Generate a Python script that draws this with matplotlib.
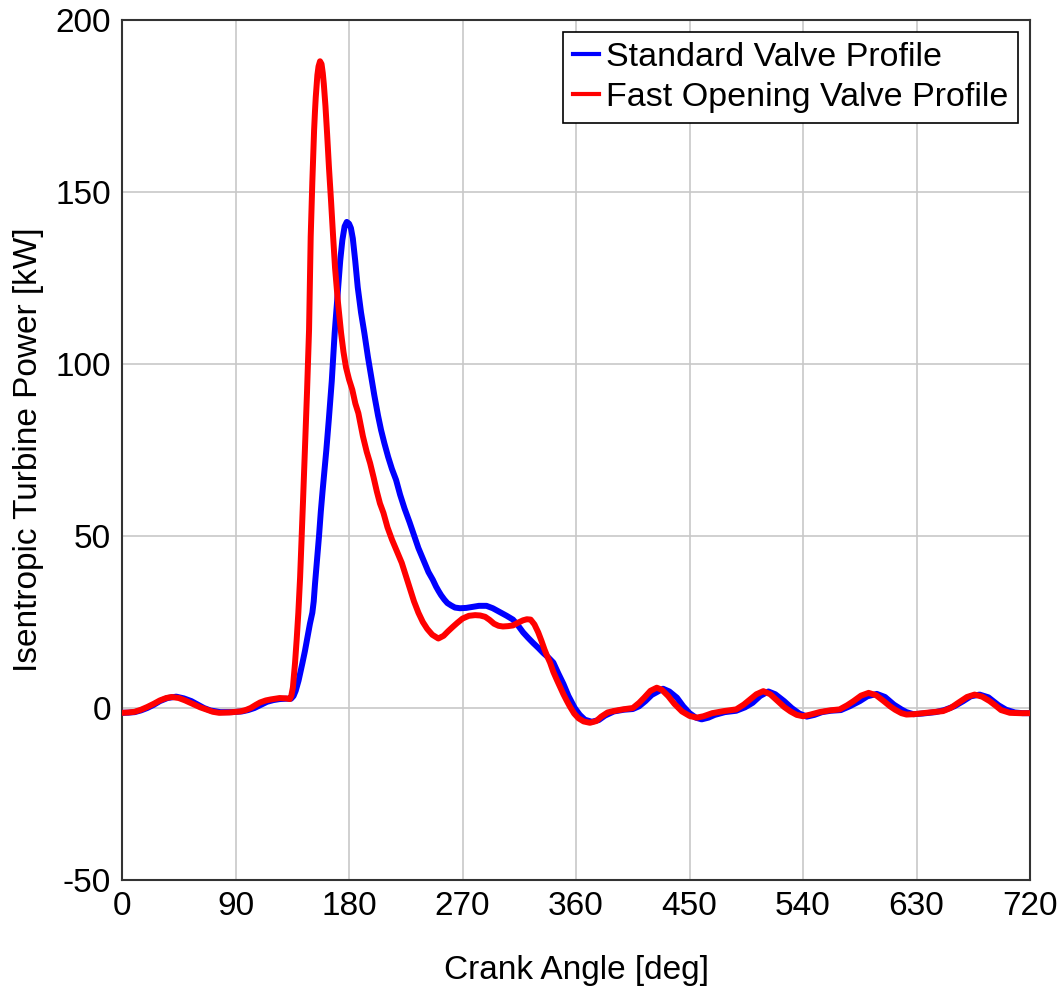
import numpy as np
import matplotlib
matplotlib.use('Agg')
import matplotlib.pyplot as plt

plt.rcParams['font.family'] = ['Liberation Sans', 'DejaVu Sans']
plt.rcParams['axes.unicode_minus'] = False

# Standard valve profile (crank angle [deg], power [kW])
std_ang = [0, 5, 10, 15, 20, 25, 30, 36, 43, 49, 55, 60, 65, 70, 78, 87, 95, 100, 105,
           110, 115, 120, 125, 130, 134, 136, 137.7, 140, 143, 145, 147, 149, 150.9,
           152, 153, 154.6, 156.2, 157.6, 159, 160.5, 162, 164, 166.3, 168.6, 171.3,
           173, 174.7, 176.5, 178.2, 180, 181.5, 183, 184.9, 186.9, 189.5, 192.2,
           195, 197.5, 200, 203, 205.4, 208, 211, 214, 217.3, 220.5, 224, 228, 231.8,
           235, 239, 243, 246.4, 249, 251, 253, 255.6, 258, 261, 264, 268, 273, 278,
           283, 289, 294, 300, 305, 310, 314, 318, 322, 326, 330, 334, 338, 342, 346,
           350, 354, 359, 363, 367, 372.5, 378, 383, 390, 398, 405, 410, 415, 420,
           429, 434, 440, 445, 450, 455, 459.6, 465, 470, 478, 487, 494, 500, 506,
           512.5, 518, 525, 531, 537, 543, 549, 555, 562, 570, 577, 585, 591, 598.5,
           605, 612, 618, 622, 627.5, 635, 645, 652, 660, 667, 673, 680, 687, 695,
           701, 708, 714, 720]
std_pow = [-1.4, -1.35, -1.2, -0.7, 0, 0.9, 2, 2.9, 3.3, 2.8, 2, 1, 0, -0.7, -1.2, -1.2,
           -1.0, -0.6, 0, 0.9, 1.8, 2.3, 2.6, 2.7, 2.7, 3.5, 5, 8, 13, 16.5, 20.5, 24.5,
           27.7, 31, 36, 43, 50, 57, 63, 69, 75, 84, 95, 109, 122, 130, 136, 140, 141.3,
           140.8, 139.5, 136.5, 130, 122.3, 115, 108.9, 102, 96.5, 91, 85, 80.8, 77, 73,
           69.5, 66.3, 62, 58, 54, 49.9, 46.5, 43, 39.5, 37.3, 35.3, 34, 32.8, 31.5,
           30.5, 29.8, 29.2, 29, 29.1, 29.4, 29.7, 29.7, 29, 27.8, 26.8, 25.7, 24, 22,
           20.4, 18.9, 17.5, 16, 14.7, 13.2, 10, 7, 3.5, 0, -2, -3.4, -4, -3.5, -2.2,
           -1, -0.5, -0.3, 0.5, 2, 3.8, 5.6, 4.8, 3, 0.5, -1.5, -2.8, -3.3, -2.8, -2,
           -1.2, -0.8, 0.2, 1.5, 3.5, 4.8, 4, 2, 0, -1.6, -2.5, -2, -1.2, -0.8, -0.6,
           0.5, 2, 3.4, 4.1, 3.2, 1, -0.4, -1.2, -1.8, -1.6, -1.2, -0.6, 0.5, 2, 3.4,
           3.9, 3.1, 0.8, -0.5, -1.3, -1.5, -1.5]

# Fast opening valve profile
fast_ang = [0, 5, 10, 15, 20, 25, 30, 35, 39.4, 45, 50, 56, 62, 68, 72, 77, 85, 93.6,
            98, 102, 106, 109.4, 114, 118, 125, 130, 133, 134.2, 135.5, 137.2, 138.5,
            139.8, 141.2, 142.5, 143.5, 144.5, 145.6, 146.7, 147.5, 148.3, 148.9,
            149.6, 150.3, 150.9, 151.6, 152.3, 153, 153.6, 154.3, 154.9, 155.8, 157,
            158.2, 159.2, 160, 161.3, 162.6, 164.1, 165.7, 167.3, 168.9, 171.2, 173.7,
            175.6, 177.6, 180, 182.6, 185, 187.4, 191, 194, 196.7, 199.5, 202, 204.5,
            207.3, 210.5, 214, 218, 221.8, 225, 228, 231.5, 235, 238.5, 242, 246,
            250.8, 255, 258.5, 262, 266, 270, 275, 280, 284, 288, 291.5, 295, 298.5,
            302, 306, 310, 314, 318, 321, 324, 327, 330, 332.5, 335, 337.2, 339.4,
            342, 345, 347.5, 350, 352.5, 355, 358.5, 362, 366, 371, 376, 380, 385,
            389.6, 397, 405, 410, 414, 419, 424, 428, 433, 438, 444, 450, 455.6, 461,
            468, 477, 487, 493, 498, 503, 508.5, 514, 520, 525, 530, 535, 540, 546,
            553, 561, 569, 575, 580, 586, 592, 598, 604, 609, 613, 618, 622, 628, 635,
            643, 651, 657, 663, 670, 676, 682, 688, 693, 697, 704, 712, 720]
fast_pow = [-1.4, -1.3, -1.1, -0.5, 0.3, 1.2, 2.2, 2.9, 3.2, 2.9, 2.2, 1.2, 0.2, -0.6,
            -1.1, -1.4, -1.3, -1.0, -0.6, 0, 0.9, 1.6, 2.2, 2.5, 2.9, 2.8, 2.6, 3.5, 6,
            13.2, 20, 27.7, 38, 50, 60, 70, 81, 92, 101, 110, 123, 137, 146, 153, 161,
            168, 173.5, 177.5, 181, 184, 186.5, 188, 187.2, 184.5, 181.4, 175, 167, 157,
            147.6, 137.5, 128, 118, 109, 103.5, 99, 95.5, 92.5, 88.5, 85.7, 79, 74.5,
            71.2, 67, 63, 59.5, 56.7, 52.5, 49, 45.5, 42.2, 38.5, 35, 31, 27.7, 25, 23,
            21.3, 20.2, 21, 22.3, 23.5, 24.8, 26, 26.8, 27, 26.9, 26.5, 25.6, 24.5,
            23.9, 23.7, 23.8, 24, 24.8, 25.5, 25.8, 25.7, 24.3, 22, 19.6, 17, 15, 13.2,
            10.5, 8, 6, 4, 2.2, 0.5, -1.6, -3, -3.9, -4.3, -3.8, -2.5, -1.3, -0.9,
            -0.4, 0, 1.5, 3, 5, 5.9, 5.3, 3.5, 1.2, -1, -2.3, -2.8, -2.4, -1.5, -0.9,
            -0.4, 1, 2.5, 4, 4.9, 4, 2, 0.3, -1, -2, -2.4, -1.9, -1.2, -0.7, -0.4, 0.8,
            2, 3.6, 4.4, 3.7, 2, 0.5, -0.5, -1.5, -1.9, -1.8, -1.5, -1.2, -0.9, 0, 1.5,
            3.2, 3.9, 3.3, 2, 0.6, -0.6, -1.4, -1.5, -1.5]

xticks = np.arange(0, 721, 90)
yticks = np.arange(-50, 201, 50)

fig = plt.figure(figsize=(10.63, 9.9), dpi=100)
ax = fig.add_axes([0.1148, 0.1111, 0.8542, 0.8687])

ax.plot(std_ang, std_pow, color='#0000ff', lw=4.3, label='Standard Valve Profile',
        zorder=3, solid_joinstyle='round')
ax.plot(fast_ang, fast_pow, color='#ff0000', lw=4.3, label='Fast Opening Valve Profile',
        zorder=4, solid_joinstyle='round')

ax.set_xlim(0, 720)
ax.set_ylim(-50, 200)
ax.set_xticks(xticks)
ax.set_yticks(yticks)
ax.grid(True, color='#c8c8c8', lw=1.2)
ax.set_axisbelow(True)
ax.tick_params(length=0, labelsize=24, pad=8)
for s in ax.spines.values():
    s.set_color('#333333')
    s.set_linewidth(1.5)

ax.set_xlabel('Crank Angle [deg]', fontsize=24, labelpad=24)
ax.set_ylabel('Isentropic Turbine Power [kW]', fontsize=24, labelpad=8)

leg = ax.legend(loc='upper right', fontsize=24.5, handlelength=0.75, handletextpad=0.2,
                borderpad=0.3, labelspacing=0.25, fancybox=False, framealpha=1,
                borderaxespad=0.35)
leg.get_frame().set_edgecolor('black')
leg.get_frame().set_linewidth(1.2)
for l in leg.get_lines():
    l.set_linewidth(3)

fig.savefig('out.png', dpi=100)
